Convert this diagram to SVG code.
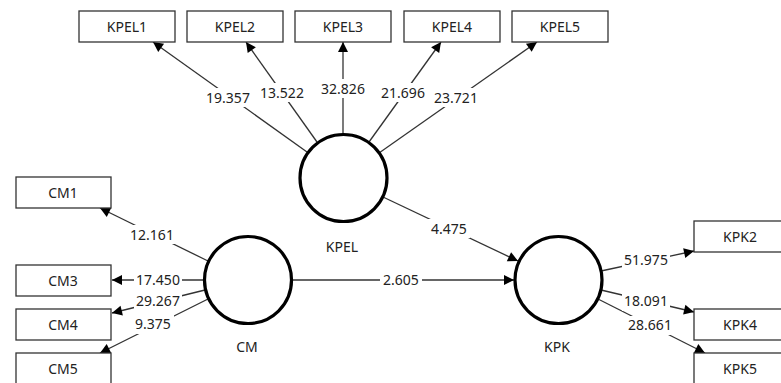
<svg xmlns="http://www.w3.org/2000/svg" width="781" height="383" viewBox="0 0 781 383">
  <style>
    .box { fill: #ffffff; stroke: #333333; stroke-width: 1.3; }
    .lv { fill: #ffffff; stroke: #000000; stroke-width: 3.2; }
    .txt { font-family: "Noto Sans", "Open Sans", "Liberation Sans", sans-serif; font-size: 14px; fill: #222222; text-anchor: middle; }
    .edge { stroke: #333333; stroke-width: 1.3; fill: none; marker-end: url(#arrow); }
    .bg { fill: #ffffff; }
  </style>
  <defs>
    <marker id="arrow" markerUnits="userSpaceOnUse" markerWidth="12" markerHeight="12" viewBox="0 0 12 12" refX="11" refY="6" orient="auto">
      <path d="M1,1 L11,6 L1,11 Z" fill="#000000"/>
    </marker>
  </defs>

  <rect width="781" height="383" fill="#ffffff"/>

  <!-- paths between constructs and indicators -->
  <g id="connectors">
    <line class="edge" x1="307" y1="152" x2="153" y2="42"/>
    <line class="edge" x1="317" y1="142" x2="246" y2="42"/>
    <line class="edge" x1="343" y1="134" x2="343" y2="42"/>
    <line class="edge" x1="369" y1="142" x2="441" y2="42"/>
    <line class="edge" x1="379" y1="153" x2="537" y2="42"/>
    <line class="edge" x1="383" y1="197" x2="518" y2="261"/>
    <line class="edge" x1="292" y1="280" x2="514" y2="280"/>
    <line class="edge" x1="208" y1="261" x2="100" y2="208"/>
    <line class="edge" x1="204" y1="280" x2="112" y2="280"/>
    <line class="edge" x1="205" y1="290" x2="112" y2="313"/>
    <line class="edge" x1="208" y1="299" x2="100" y2="353"/>
    <line class="edge" x1="601" y1="271" x2="694" y2="251"/>
    <line class="edge" x1="601" y1="290" x2="694" y2="312"/>
    <line class="edge" x1="598" y1="299" x2="705" y2="353"/>

    <!-- path coefficients -->
    <rect class="bg" x="204" y="88" width="48" height="19"/>
    <text class="txt" x="228" y="102.5">19.357</text>
    <rect class="bg" x="258" y="83" width="48" height="19"/>
    <text class="txt" x="282" y="97.5">13.522</text>
    <rect class="bg" x="319" y="79" width="48" height="19"/>
    <text class="txt" x="343" y="93.5">32.826</text>
    <rect class="bg" x="379" y="83" width="48" height="19"/>
    <text class="txt" x="403" y="97.5">21.696</text>
    <rect class="bg" x="432" y="88" width="48" height="19"/>
    <text class="txt" x="456" y="102.5">23.721</text>
    <rect class="bg" x="428" y="219" width="42" height="19"/>
    <text class="txt" x="449" y="233.5">4.475</text>
    <rect class="bg" x="380" y="270" width="42" height="19"/>
    <text class="txt" x="401" y="285">2.605</text>
    <rect class="bg" x="128" y="225" width="48" height="19"/>
    <text class="txt" x="152" y="240">12.161</text>
    <rect class="bg" x="134" y="270" width="48" height="19"/>
    <text class="txt" x="158" y="285">17.450</text>
    <rect class="bg" x="134" y="292" width="48" height="19"/>
    <text class="txt" x="158" y="306">29.267</text>
    <rect class="bg" x="132" y="315" width="42" height="19"/>
    <text class="txt" x="153" y="329">9.375</text>
    <rect class="bg" x="622" y="250" width="48" height="19"/>
    <text class="txt" x="646" y="265">51.975</text>
    <rect class="bg" x="622" y="292" width="48" height="19"/>
    <text class="txt" x="646" y="306">18.091</text>
    <rect class="bg" x="626" y="316" width="48" height="19"/>
    <text class="txt" x="650" y="330">28.661</text>
  </g>

  <!-- latent variables -->
  <g id="KPEL">
    <circle class="lv" cx="343.5" cy="178" r="43.5"/>
    <text class="txt" x="342" y="251.5">KPEL</text>
  </g>
  <g id="CM">
    <circle class="lv" cx="248" cy="280" r="43.5"/>
    <text class="txt" x="247" y="352">CM</text>
  </g>
  <g id="KPK">
    <circle class="lv" cx="558.5" cy="280" r="43.5"/>
    <text class="txt" x="557" y="352">KPK</text>
  </g>

  <!-- indicators -->
  <g id="KPEL1">
    <rect class="box" x="79" y="11" width="96" height="31"/>
    <text class="txt" x="127" y="31.5">KPEL1</text>
  </g>
  <g id="KPEL2">
    <rect class="box" x="187" y="11" width="96" height="31"/>
    <text class="txt" x="235" y="31.5">KPEL2</text>
  </g>
  <g id="KPEL3">
    <rect class="box" x="295" y="11" width="96" height="31"/>
    <text class="txt" x="343" y="31.5">KPEL3</text>
  </g>
  <g id="KPEL4">
    <rect class="box" x="404" y="11" width="96" height="31"/>
    <text class="txt" x="452" y="31.5">KPEL4</text>
  </g>
  <g id="KPEL5">
    <rect class="box" x="512" y="11" width="96" height="31"/>
    <text class="txt" x="560" y="31.5">KPEL5</text>
  </g>
  <g id="CM1">
    <rect class="box" x="16" y="177" width="95" height="31"/>
    <text class="txt" x="63" y="197.5">CM1</text>
  </g>
  <g id="CM3">
    <rect class="box" x="16" y="265" width="95" height="31"/>
    <text class="txt" x="63" y="285.5">CM3</text>
  </g>
  <g id="CM4">
    <rect class="box" x="16" y="309" width="95" height="31"/>
    <text class="txt" x="63" y="329.5">CM4</text>
  </g>
  <g id="CM5">
    <rect class="box" x="16" y="353" width="95" height="31"/>
    <text class="txt" x="63" y="373.5">CM5</text>
  </g>
  <g id="KPK2">
    <rect class="box" x="694" y="221" width="96" height="31"/>
    <text class="txt" x="740" y="241.5">KPK2</text>
  </g>
  <g id="KPK4">
    <rect class="box" x="694" y="309" width="96" height="31"/>
    <text class="txt" x="740" y="329.5">KPK4</text>
  </g>
  <g id="KPK5">
    <rect class="box" x="694" y="353" width="96" height="31"/>
    <text class="txt" x="740" y="373.5">KPK5</text>
  </g>
</svg>
